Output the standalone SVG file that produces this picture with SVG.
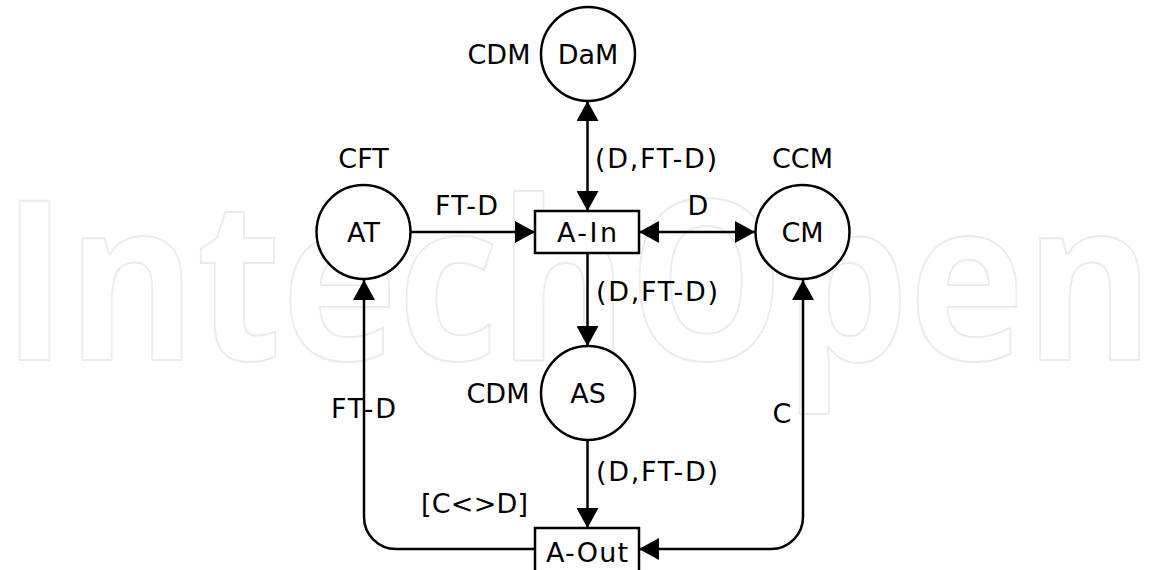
<svg xmlns="http://www.w3.org/2000/svg" width="1157" height="570" viewBox="0 0 1157 570">
  <style>
    .wm { font-family: "Open Sans", "Liberation Sans", sans-serif; font-weight: bold; font-size: 222px; fill: #ffffff; stroke: #ebebeb; stroke-width: 2; }
    .node { fill: #ffffff; stroke: #000000; stroke-width: 2.5; }
    .t { font-family: "DejaVu Sans", Verdana, sans-serif; font-size: 27px; fill: #000000; }
    .c { text-anchor: middle; }
    .edge { fill: none; stroke: #000000; stroke-width: 2.5; }
  </style>
  <defs>
    <marker id="arr" viewBox="0 0 20 22" refX="20" refY="11" markerWidth="20" markerHeight="22" markerUnits="userSpaceOnUse" orient="auto-start-reverse">
      <path d="M0,0 L20,11 L0,22 z" fill="#000000"/>
    </marker>
  </defs>
  <rect width="1157" height="570" fill="#ffffff"/>
  <text class="wm" x="2" y="360" textLength="1152" lengthAdjust="spacingAndGlyphs">IntechOpen</text>

  <g id="connectors">
    <line class="edge" x1="587.5" y1="101" x2="587.5" y2="211" marker-start="url(#arr)" marker-end="url(#arr)"/>
    <line class="edge" x1="411" y1="232" x2="535" y2="232" marker-end="url(#arr)"/>
    <line class="edge" x1="639" y1="232" x2="755" y2="232" marker-start="url(#arr)" marker-end="url(#arr)"/>
    <line class="edge" x1="587.5" y1="253" x2="587.5" y2="346" marker-end="url(#arr)"/>
    <line class="edge" x1="587.5" y1="440" x2="587.5" y2="528" marker-end="url(#arr)"/>
    <path class="edge" d="M535,549 H396 A32,32 0 0 1 364,517 V280" marker-end="url(#arr)"/>
    <path class="edge" d="M639,549 H771 A32,32 0 0 0 803,517 V280" marker-start="url(#arr)" marker-end="url(#arr)"/>
    <text class="t" x="595" y="168" textLength="122">(D,FT-D)</text>
    <text class="t" x="435" y="215" textLength="63">FT-D</text>
    <text class="t c" x="698" y="215">D</text>
    <text class="t" x="596" y="301" textLength="122">(D,FT-D)</text>
    <text class="t" x="331" y="418" textLength="65">FT-D</text>
    <text class="t c" x="782" y="423">C</text>
    <text class="t" x="596" y="481" textLength="122">(D,FT-D)</text>
    <text class="t" x="421" y="513" textLength="107">[C&lt;&gt;D]</text>
  </g>

  <g id="DaM">
    <circle class="node" cx="588" cy="54" r="47"/>
    <text class="t c" x="588" y="64">DaM</text>
    <text class="t c" x="499" y="64">CDM</text>
  </g>
  <g id="AT">
    <circle class="node" cx="363.5" cy="232" r="47"/>
    <text class="t c" x="363.5" y="242">AT</text>
    <text class="t c" x="363.5" y="168">CFT</text>
  </g>
  <g id="A-In">
    <rect class="node" x="535" y="211" width="104" height="42"/>
    <text class="t" x="557" y="242" textLength="60">A-In</text>
  </g>
  <g id="CM">
    <circle class="node" cx="802.5" cy="232" r="47"/>
    <text class="t c" x="802.5" y="242">CM</text>
    <text class="t c" x="802.5" y="168">CCM</text>
  </g>
  <g id="AS">
    <circle class="node" cx="588" cy="393" r="47"/>
    <text class="t c" x="588" y="403">AS</text>
    <text class="t c" x="498" y="403">CDM</text>
  </g>
  <g id="A-Out">
    <rect class="node" x="535" y="528" width="104" height="46"/>
    <text class="t" x="546" y="562" textLength="82">A-Out</text>
  </g>
</svg>
